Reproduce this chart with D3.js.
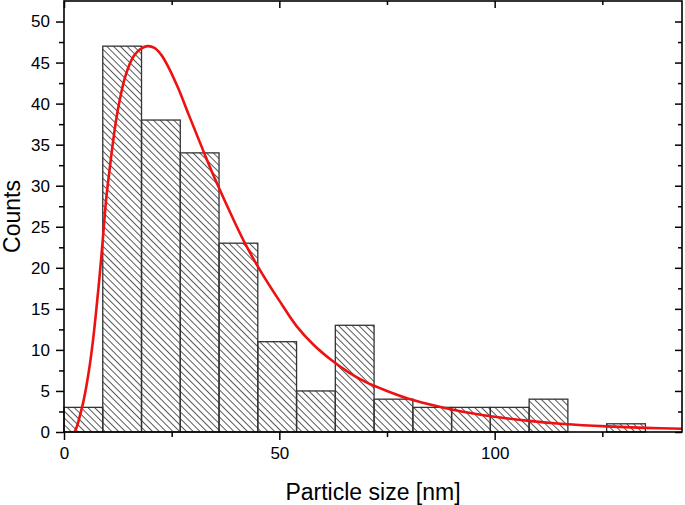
<!DOCTYPE html>
<html>
<head>
<meta charset="utf-8">
<script src="https://cdn.jsdelivr.net/npm/d3@7"></script>
<style>
  body { margin: 0; background: #fff; }
  svg text { font-family: "Liberation Sans", Arial, sans-serif; fill: #000; }
</style>
</head>
<body>
<div class="js-chart"></div>
<script>
// histogram bins (nm) and counts
let binStarts = [0, 9, 18, 27, 36, 45, 54, 63, 72, 81, 90, 99, 108, 117, 126];
let binWidth = 9;
let counts = [3, 47, 38, 34, 23, 11, 5, 13, 4, 3, 3, 3, 4, 0, 1];

// fitted curve, points
let fitX = [2.5, 3.2, 3.8, 4.5, 5.2, 6.0, 6.7, 7.5, 8.3, 9.0, 9.8, 10.6, 11.4, 12.2, 13.0, 14.0, 15.0, 16.2, 17.6, 19.3,
  21, 22.5, 24, 26.5, 29, 32, 35, 38, 42, 46, 50, 54, 58, 62, 66, 70, 75, 80, 85, 90, 95, 100, 108, 116, 126, 135, 143.5];
let fitY = [0, 1.0, 2.2, 3.7, 5.6, 8.2, 11.0, 14.9, 19.2, 23.4, 28.4, 32.0, 35.4, 38.3, 40.6, 42.9, 44.5, 45.8, 46.6, 47.0,
  46.8, 46.0, 44.7, 41.9, 38.6, 34.7, 30.9, 27.4, 23.0, 19.3, 16.0, 12.9, 10.6, 8.8, 7.3, 6.1, 5.0, 4.05, 3.35, 2.75, 2.25, 1.85, 1.35, 0.98, 0.68, 0.5, 0.4];

let xMajor = [0, 50, 100];
let xMinor = [25, 75, 125];
let yMajor = [0, 5, 10, 15, 20, 25, 30, 35, 40, 45, 50];
let yMinor = [2.5, 7.5, 12.5, 17.5, 22.5, 27.5, 32.5, 37.5, 42.5, 47.5];

function drawChart() {
  var width = 685;
  var height = 505;
  var left = 64, right = 682, top = 1, bottom = 432;

  var x = d3.scaleLinear().domain([0, 143.5]).range([left, right]);
  var y = d3.scaleLinear().domain([0, 52.5]).range([bottom, top]);

  var svg = d3.select('.js-chart').append('svg')
    .attr('width', width)
    .attr('height', height);

  // hatch pattern for the bars
  svg.append('defs').append('pattern')
    .attr('id', 'hatch')
    .attr('patternUnits', 'userSpaceOnUse')
    .attr('width', 8)
    .attr('height', 4.8)
    .attr('patternTransform', 'rotate(45)')
    .append('line')
    .attr('x1', 0).attr('x2', 8)
    .attr('y1', 0.5).attr('y2', 0.5)
    .attr('stroke', '#444')
    .attr('stroke-width', 0.9);

  var data = binStarts.map((d, i) => ({ x0: d, x1: d + binWidth, n: counts[i] }));

  svg.append('g').selectAll('rect')
    .data(data.filter((d) => d.n > 0))
    .enter()
    .append('rect')
    .attr('x', (d) => x(d.x0))
    .attr('y', (d) => y(d.n))
    .attr('width', (d) => x(d.x1) - x(d.x0))
    .attr('height', (d) => y(0) - y(d.n))
    .attr('fill', 'url(#hatch)')
    .attr('stroke', '#333')
    .attr('stroke-width', 1.3);

  // fit line
  var line = d3.line()
    .x((d) => x(d[0]))
    .y((d) => y(d[1]))
    .curve(d3.curveCatmullRom.alpha(0.5));
  svg.append('path')
    .datum(fitX.map((d, i) => [d, fitY[i]]))
    .attr('d', line)
    .attr('fill', 'none')
    .attr('stroke', '#ee1111')
    .attr('stroke-width', 2.6);

  // axes: outer ticks on bottom/left, inner mirror ticks top/right
  svg.append('g').attr('transform', `translate(0,${bottom})`)
    .call(d3.axisBottom(x).tickValues(xMajor).tickSize(8).tickFormat(d3.format('d')).tickPadding(7));
  svg.append('g').attr('transform', `translate(0,${bottom})`)
    .call(d3.axisBottom(x).tickValues(xMinor).tickSize(5).tickFormat(''));
  svg.append('g').attr('transform', `translate(${left},0)`)
    .call(d3.axisLeft(y).tickValues(yMajor).tickSize(8).tickPadding(6));
  svg.append('g').attr('transform', `translate(${left},0)`)
    .call(d3.axisLeft(y).tickValues(yMinor).tickSize(5).tickFormat(''));
  svg.append('g').attr('transform', `translate(0,${top})`)
    .call(d3.axisBottom(x).tickValues(xMajor).tickSize(7).tickFormat(''));
  svg.append('g').attr('transform', `translate(0,${top})`)
    .call(d3.axisBottom(x).tickValues(xMinor).tickSize(4).tickFormat(''));
  svg.append('g').attr('transform', `translate(${right},0)`)
    .call(d3.axisLeft(y).tickValues(yMajor).tickSize(7).tickFormat(''));
  svg.append('g').attr('transform', `translate(${right},0)`)
    .call(d3.axisLeft(y).tickValues(yMinor).tickSize(4).tickFormat(''));

  svg.selectAll('.domain').remove();
  svg.selectAll('.tick line').attr('stroke', '#000').attr('stroke-width', 1.5);
  svg.selectAll('.tick text')
    .style('font-size', '17px')
    .style('font-family', '"Liberation Sans", Arial, sans-serif');

  // frame
  svg.append('rect')
    .attr('x', left).attr('y', top)
    .attr('width', right - left).attr('height', bottom - top)
    .attr('fill', 'none')
    .attr('stroke', '#000')
    .attr('stroke-width', 1.6);

  // axis titles
  svg.append('text')
    .attr('x', (left + right) / 2)
    .attr('y', 500)
    .style('text-anchor', 'middle')
    .style('font-size', '23px')
    .text('Particle size [nm]');
  svg.append('text')
    .attr('transform', `translate(20,${(top + bottom) / 2})rotate(-90)`)
    .style('text-anchor', 'middle')
    .style('font-size', '23px')
    .text('Counts');
}

drawChart();
</script>
</body>
</html>
